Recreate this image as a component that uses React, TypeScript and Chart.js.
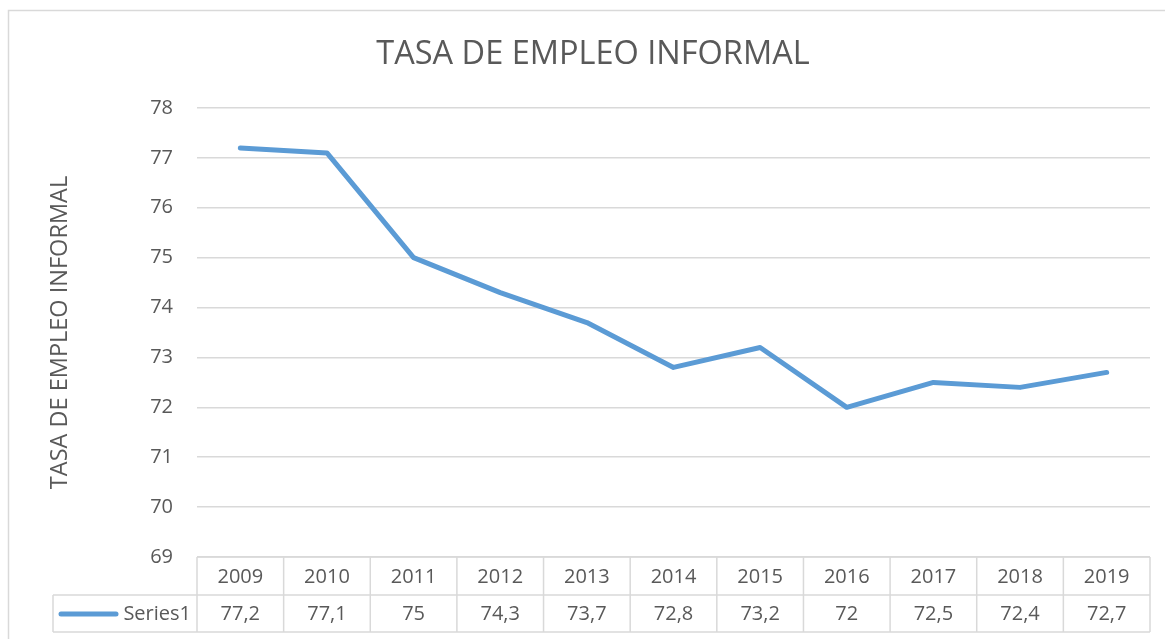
import React, { useEffect, useRef } from "react";
import { Chart, registerables } from "chart.js";

Chart.register(...registerables);

const categories = ["2009", "2010", "2011", "2012", "2013", "2014", "2015", "2016", "2017", "2018", "2019"];
const series1 = [77.2, 77.1, 75, 74.3, 73.7, 72.8, 73.2, 72, 72.5, 72.4, 72.7];
const seriesName = "Series1";
const chartTitle = "TASA DE EMPLEO INFORMAL";
const yAxisTitle = "TASA DE EMPLEO INFORMAL";
const yMin = 69;
const yMax = 78;

const FONT = "'Open Sans', 'Noto Sans', sans-serif";
const TEXT = "#595959";
const GRID = "#d9d9d9";
const LINE = "#5B9BD5";

const fmt = (v: number) => String(v).replace(".", ",");

const tablePlugin = {
  id: "dataTable",
  beforeDraw(chart: any) {
    const ctx = chart.ctx;
    ctx.save();
    ctx.strokeStyle = GRID;
    ctx.lineWidth = 1.5;
    ctx.strokeRect(8.5, 10.5, 1300, 800);
    ctx.restore();
  },
  afterDraw(chart: any) {
    const ctx = chart.ctx;
    const area = chart.chartArea;
    const xs = chart.scales.x;
    const n = categories.length;
    const left = area.left;
    const right = area.right;
    const w = (right - left) / n;
    const top = area.bottom;
    const rowH = 38;
    const mid = top + rowH;
    const bot = top + rowH * 2 - 1;
    const labelLeft = 53;
    ctx.save();
    ctx.strokeStyle = GRID;
    ctx.lineWidth = 1.5;
    ctx.beginPath();
    ctx.moveTo(left, top);
    ctx.lineTo(right, top);
    ctx.moveTo(labelLeft, mid);
    ctx.lineTo(right, mid);
    ctx.moveTo(labelLeft, bot);
    ctx.lineTo(right, bot);
    for (let i = 0; i <= n; i++) {
      const x = left + i * w;
      ctx.moveTo(x, top);
      ctx.lineTo(x, bot);
    }
    ctx.moveTo(labelLeft, mid);
    ctx.lineTo(labelLeft, bot);
    ctx.stroke();

    ctx.fillStyle = TEXT;
    ctx.font = `20px ${FONT}`;
    ctx.textAlign = "center";
    ctx.textBaseline = "middle";
    for (let i = 0; i < n; i++) {
      const cx = xs.getPixelForValue(i);
      ctx.fillText(categories[i], cx, top + rowH / 2 + 1);
      ctx.fillText(fmt(series1[i]), cx, mid + rowH / 2);
    }
    ctx.textAlign = "right";
    ctx.fillText(seriesName, left - 6, mid + rowH / 2);
    const ly = mid + rowH / 2;
    ctx.strokeStyle = LINE;
    ctx.lineWidth = 5;
    ctx.lineCap = "round";
    ctx.beginPath();
    ctx.moveTo(61, ly);
    ctx.lineTo(116, ly);
    ctx.stroke();
    ctx.restore();
  },
};

export default function App() {
  const ref = useRef<HTMLCanvasElement | null>(null);
  useEffect(() => {
    if (!ref.current) return;
    const chart = new Chart(ref.current, {
      type: "line",
      data: {
        labels: categories,
        datasets: [
          {
            label: seriesName,
            data: series1,
            borderColor: LINE,
            backgroundColor: LINE,
            borderWidth: 5,
            pointRadius: 0,
            borderCapStyle: "round",
            borderJoinStyle: "round",
            tension: 0,
          },
        ],
      },
      options: {
        animation: false,
        responsive: false,
        maintainAspectRatio: false,
        layout: { padding: { left: 36, right: 15, top: 0, bottom: 82 } },
        plugins: {
          legend: { display: false },
          tooltip: { enabled: false },
          title: {
            display: true,
            text: chartTitle,
            color: TEXT,
            font: { family: FONT, size: 32.5, weight: "normal", lineHeight: 1.2 },
            padding: { top: 35, bottom: 34 },
          },
        },
        scales: {
          x: {
            display: false,
            offset: true,
          },
          y: {
            min: yMin,
            max: yMax,
            ticks: {
              stepSize: 1,
              color: TEXT,
              padding: 24,
              font: { family: FONT, size: 20 },
            },
            grid: { color: GRID, lineWidth: 1.5, drawTicks: false },
            border: { display: false },
            title: {
              display: true,
              text: yAxisTitle,
              color: TEXT,
              font: { family: FONT, size: 23.5, weight: "normal", lineHeight: 1.2 },
              padding: { top: 10, bottom: 0 },
            },
            afterFit(scale: any) {
              scale.width = 161;
            },
          },
        },
      },
      plugins: [tablePlugin],
    });
    return () => chart.destroy();
  }, []);
  return (
    <div style={{ position: "absolute", left: 0, top: 0, width: 1165, height: 639, background: "#fff" }}>
      <canvas ref={ref} width={1165} height={639} style={{ display: "block" }} />
    </div>
  );
}
